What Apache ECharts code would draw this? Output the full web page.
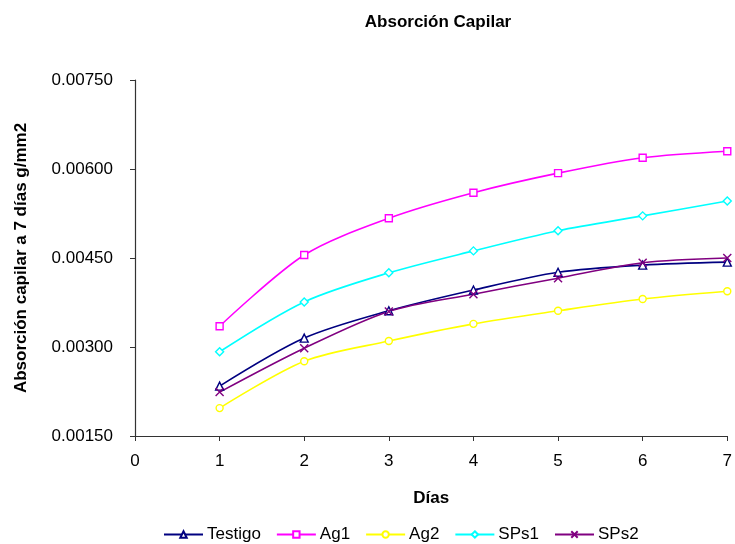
<!DOCTYPE html>
<html>
<head>
<meta charset="utf-8">
<script src="https://cdn.jsdelivr.net/npm/echarts@6/dist/echarts.min.js"></script>
<style>
  html, body { margin: 0; padding: 0; background: #fff; }
  #chart { width: 735px; height: 544px; }
</style>
</head>
<body>
<div id="chart"></div>
<script>
var dias = [1, 2, 3, 4, 5, 6, 7];
var testigo = [0.00234, 0.00315, 0.00361, 0.00396, 0.00426, 0.00438, 0.00443];
var ag1 = [0.00335, 0.00455, 0.00517, 0.00560, 0.00593, 0.00619, 0.00630];
var ag2 = [0.00197, 0.00276, 0.00310, 0.00339, 0.00361, 0.00381, 0.00394];
var sps1 = [0.00292, 0.00376, 0.00425, 0.00462, 0.00496, 0.00521, 0.00546];
var sps2 = [0.00224, 0.00298, 0.00360, 0.00389, 0.00416, 0.00442, 0.00450];

var chart = echarts.init(document.getElementById('chart'));
var font = 'Liberation Sans, Arial, sans-serif';

function serie(name, data, color, symbol, size) {
    return {
        name: name,
        type: 'line',
        smooth: 0.3,
        data: dias.map((d, i) => [d, data[i]]),
        symbol: symbol,
        symbolSize: size,
        lineStyle: { color: color, width: 1.6 },
        itemStyle: { color: '#fff', borderColor: color, borderWidth: 1.4 },
        emphasis: { disabled: true }
    };
}

var option = {
    animation: false,
    textStyle: { fontFamily: font },
    title: {
        text: 'Absorción Capilar',
        left: 433,
        textAlign: 'center',
        top: 9,
        textStyle: { fontSize: 17, fontWeight: 'bold', color: '#000', fontFamily: font }
    },
    legend: {
        top: 521,
        left: 158,
        itemWidth: 39,
        itemHeight: 8,
        itemGap: 15,
        textStyle: { fontSize: 17, color: '#000', fontFamily: font, padding: [0, 0, 0, -1] },
        data: ['Testigo', 'Ag1', 'Ag2', 'SPs1', 'SPs2']
    },
    grid: { left: 135, right: 4, top: 80, bottom: 108 },
    xAxis: {
        type: 'value',
        min: 0,
        max: 7,
        interval: 1,
        name: 'Días',
        nameLocation: 'middle',
        nameGap: 54,
        nameTextStyle: { fontSize: 17, fontWeight: 'bold', color: '#000' },
        axisLine: { lineStyle: { color: '#333', width: 1.2 } },
        axisTick: { show: true, length: 5, lineStyle: { color: '#333' } },
        axisLabel: { fontSize: 17, color: '#000', margin: 17 },
        splitLine: { show: false }
    },
    yAxis: {
        type: 'value',
        min: 0.0015,
        max: 0.0075,
        interval: 0.0015,
        name: 'Absorción capilar a 7 días g/mm2',
        nameLocation: 'middle',
        nameGap: 105,
        nameTextStyle: { fontSize: 17, fontWeight: 'bold', color: '#000' },
        axisLine: { show: true, lineStyle: { color: '#333', width: 1.2 } },
        axisTick: { show: true, length: 5, lineStyle: { color: '#333' } },
        axisLabel: { fontSize: 17, color: '#000', margin: 22, formatter: v => v.toFixed(5) },
        splitLine: { show: false }
    },
    series: [
        serie('Testigo', testigo, '#000080', 'triangle', 8),
        serie('Ag1', ag1, '#ff00ff', 'rect', 7),
        serie('Ag2', ag2, '#ffff00', 'circle', 7),
        serie('SPs1', sps1, '#00ffff', 'diamond', 8),
        serie('SPs2', sps2, '#800080', 'path://M0,0L10,10M10,0L0,10', 8)
    ]
};

chart.setOption(option);
</script>
</body>
</html>
